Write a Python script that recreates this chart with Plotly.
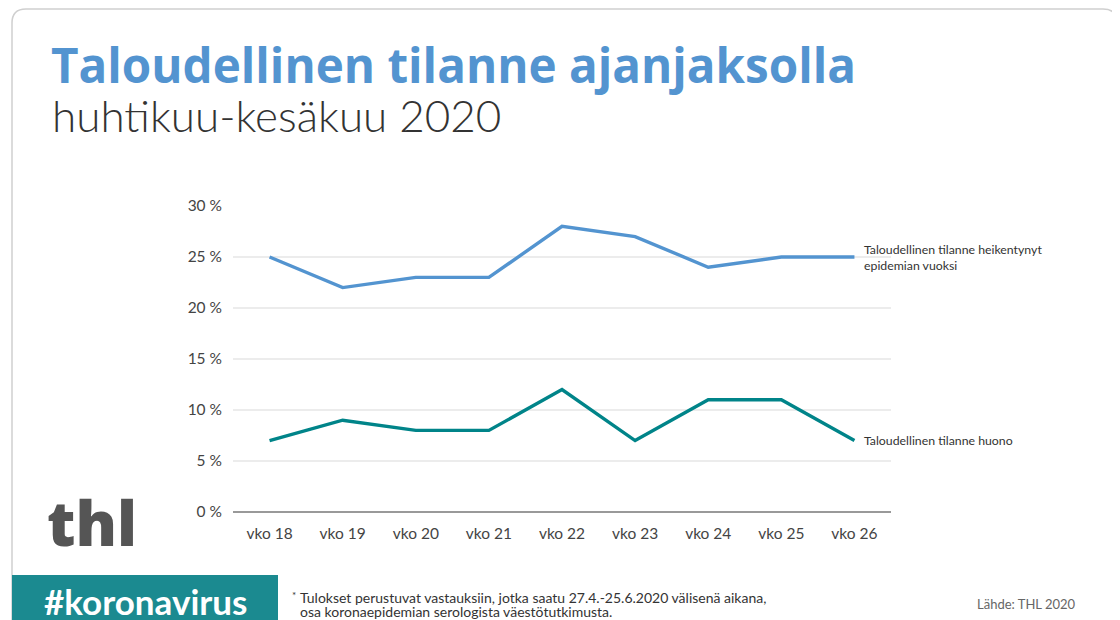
import plotly.graph_objects as go

weeks = ["vko 18", "vko 19", "vko 20", "vko 21", "vko 22", "vko 23", "vko 24", "vko 25", "vko 26"]
heikentynyt = [25, 22, 23, 23, 28, 27, 24, 25, 25]
huono = [7, 9, 8, 8, 12, 7, 11, 11, 7]
y_ticks = [0, 5, 10, 15, 20, 25, 30]
y_labels = ["0 %", "5 %", "10 %", "15 %", "20 %", "25 %", "30 %"]

BLUE = "#5394d0"
TEAL = "#008489"
FONT = "Lato"

# page is shown with an 8px body margin, so shift everything back by 8px
OFF = 8
ML, MR, MT, MB = 233 - OFF, 229 + OFF, 206 - OFF, 108 + OFF
PW = 1120 - ML - MR
PH = 620 - MT - MB


def pxx(x):
    return (x - OFF - ML) / PW


def pxy(y):
    return (620 - MB - (y - OFF)) / PH


fig = go.Figure()
fig.add_trace(go.Scatter(x=weeks, y=heikentynyt, mode="lines",
                         line=dict(color=BLUE, width=3.4), name="heikentynyt"))
fig.add_trace(go.Scatter(x=weeks, y=huono, mode="lines",
                         line=dict(color=TEAL, width=3.4), name="huono"))

# line end labels
fig.add_annotation(x=weeks[-1], y=heikentynyt[-1], xref="x", yref="y",
                   text="Taloudellinen tilanne heikentynyt<br>epidemian vuoksi",
                   showarrow=False, xanchor="left", yanchor="middle", xshift=8,
                   align="left", font=dict(family=FONT, size=12.3, color="#333"))
fig.add_annotation(x=weeks[-1], y=huono[-1], xref="x", yref="y",
                   text="Taloudellinen tilanne huono",
                   showarrow=False, xanchor="left", yanchor="middle", xshift=8,
                   align="left", font=dict(family=FONT, size=12.3, color="#333"))


def txt(text, x, y, size, color, weight=400, anchor="left", family=FONT):
    fig.add_annotation(x=pxx(x), y=pxy(y), xref="paper", yref="paper",
                       text=text, showarrow=False, xanchor=anchor, yanchor="middle",
                       align="left",
                       font=dict(family=family, size=size, color=color, weight=weight))


fig.update_layout(
    width=1120, height=620,
    margin=dict(l=ML, r=MR, t=MT, b=MB),
    paper_bgcolor="white", plot_bgcolor="white",
    showlegend=False,
    xaxis=dict(range=[-0.5, 8.5], showgrid=False, ticks="",
               tickfont=dict(family=FONT, size=15.5, color="#444"), showline=False,
               ticklabelstandoff=10),
    yaxis=dict(range=[0, 30], tickvals=y_ticks, ticktext=y_labels,
               showgrid=True, gridcolor="#ececec", gridwidth=1.5,
               zeroline=True, zerolinecolor="#999", zerolinewidth=2,
               tickfont=dict(family=FONT, size=15.5, color="#444"),
               ticks="", ticklabelstandoff=10),
)

# card border with rounded top corners
l, r, t, b, rr = pxx(12), pxx(1117), pxy(9), pxy(660), 14 / PW
rv = 14 / PH
fig.add_shape(type="path", xref="paper", yref="paper",
              path=f"M {l},{b} L {l},{t - rv} Q {l},{t} {l + rr},{t} "
                   f"L {r - rr},{t} Q {r},{t} {r},{t - rv} L {r},{b}",
              line=dict(color="#cfcfcf", width=1.5), layer="below")

txt("Taloudellinen tilanne ajanjaksolla", 49, 64, 47.6, BLUE, weight=700, family="Open Sans")
txt("huhtikuu-kesäkuu 2020", 50, 115, 44, "#333", weight=300)

# thl logo
txt("thl", 45, 522, 62, "#555", weight=800, family="Open Sans")

# koronavirus banner
fig.add_shape(type="rect", xref="paper", yref="paper",
              x0=pxx(12), x1=pxx(278), y0=pxy(640), y1=pxy(575),
              line=dict(width=0), fillcolor="#1b8a90")
txt("#koronavirus", 42, 601, 35, "white", weight=700)

txt("*", 290, 595, 10, "#333")
txt("Tulokset perustuvat vastauksiin, jotka saatu 27.4.-25.6.2020 välisenä aikana,",
    298, 597, 14, "#333")
txt("osa koronaepidemian serologista väestötutkimusta.", 298, 611, 14, "#333")
txt("Lähde: THL 2020", 975, 604, 13, "#666")

fig.write_html("out.html")
